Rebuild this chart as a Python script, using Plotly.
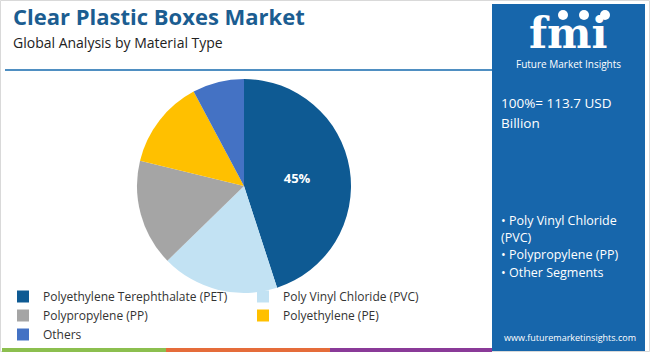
import plotly.graph_objects as go

W, H = 650, 352

labels = ["Polyethylene Terephthalate (PET)", "Poly Vinyl Chloride (PVC)",
          "Polypropylene (PP)", "Polyethylene (PE)", "Others"]
shares = [45.0, 17.7, 16.1, 13.4, 7.8]
slice_text = ["45%", "", "", "", ""]
colors = ["#0e5a93", "#c2e2f3", "#a5a5a5", "#ffc000", "#4472c4"]

panel_lines = ["• Poly Vinyl Chloride", "(PVC)", "• Polypropylene (PP)", "• Other Segments"]
panel_line_y = [220, 237, 254, 272]


def px(x):
    return x / W


def py(y):
    return 1 - y / H


fig = go.Figure()
fig.add_trace(go.Pie(
    labels=labels, values=shares, text=slice_text,
    textinfo="text", textposition="inside", insidetextorientation="horizontal",
    textfont=dict(color="white", size=13, family="Open Sans", weight="bold"),
    marker=dict(colors=colors, line=dict(width=0)),
    sort=False, direction="clockwise", rotation=0,
    domain=dict(x=[px(137), px(351)], y=[py(293), py(79)]),
    hoverinfo="label+percent",
))

shapes = []
# outer frame
shapes.append(dict(type="rect", xref="paper", yref="paper", x0=px(0.5), x1=px(649.5),
                   y0=py(351.5), y1=py(0.5), line=dict(color="#d9d9d9", width=1)))
# rule under title
shapes.append(dict(type="line", xref="paper", yref="paper", x0=px(5), x1=px(492),
                   y0=py(70), y1=py(70), line=dict(color="#4f8fc2", width=2)))
# right panel
shapes.append(dict(type="rect", xref="paper", yref="paper", x0=px(492), x1=px(645),
                   y0=0, y1=py(4), fillcolor="#1766ab", line=dict(width=0), layer="below"))
# bottom colour bar
for x0, x1, c in [(2, 166, "#8cbf4f"), (166, 330, "#e56c3a"), (330, 492, "#8a3a98")]:
    shapes.append(dict(type="rect", xref="paper", yref="paper", x0=px(x0), x1=px(x1),
                       y0=0, y1=py(348), fillcolor=c, line=dict(width=0)))
# logo globes
for cx in [563, 584, 605]:
    shapes.append(dict(type="circle", xref="paper", yref="paper", x0=px(cx - 5), x1=px(cx + 5),
                       y0=py(20), y1=py(10), fillcolor="white", line=dict(width=0)))

annotations = [
    dict(text="<b>Clear Plastic Boxes Market</b>", x=px(11), y=py(16), xanchor="left", yanchor="middle",
         font=dict(family="Open Sans", size=22, color="#1b5d91"), showarrow=False),
    dict(text="Global Analysis by Material Type", x=px(11), y=py(42), xanchor="left", yanchor="middle",
         font=dict(family="Open Sans", size=14, color="#222222"), showarrow=False),
    dict(text="<b>fmi</b>", x=px(568), y=py(33), xanchor="center", yanchor="middle",
         font=dict(family="DejaVu Serif", size=42, color="white"), showarrow=False),
    dict(text="Future Market Insights", x=px(568), y=py(64), xanchor="center", yanchor="middle",
         font=dict(family="Open Sans", size=10, color="white"), showarrow=False),
    dict(text="100%= 113.7 USD", x=px(499), y=py(103), xanchor="left", yanchor="middle",
         font=dict(family="Open Sans", size=13.5, color="white"), showarrow=False),
    dict(text="Billion", x=px(499), y=py(123), xanchor="left", yanchor="middle",
         font=dict(family="Open Sans", size=13.5, color="white"), showarrow=False),
    dict(text="www.futuremarketinsights.com", x=px(570), y=py(337), xanchor="center", yanchor="middle",
         font=dict(family="Open Sans", size=9, color="white"), showarrow=False),
]
for t, yy in zip(panel_lines, panel_line_y):
    annotations.append(dict(text=t, x=px(499), y=py(yy), xanchor="left", yanchor="middle",
                            font=dict(family="Open Sans", size=12.5, color="white"), showarrow=False))

fig.update_layout(
    width=W, height=H, margin=dict(l=0, r=0, t=0, b=0),
    paper_bgcolor="white", plot_bgcolor="white",
    shapes=shapes, annotations=annotations,
    showlegend=True,
    legend=dict(orientation="h", x=px(3), y=py(282), xanchor="left", yanchor="top",
                entrywidth=195, entrywidthmode="pixels", traceorder="normal",
                font=dict(family="Open Sans", size=12, color="#333333"),
                bgcolor="rgba(0,0,0,0)", itemclick=False),
)

fig.write_html("out.html")
